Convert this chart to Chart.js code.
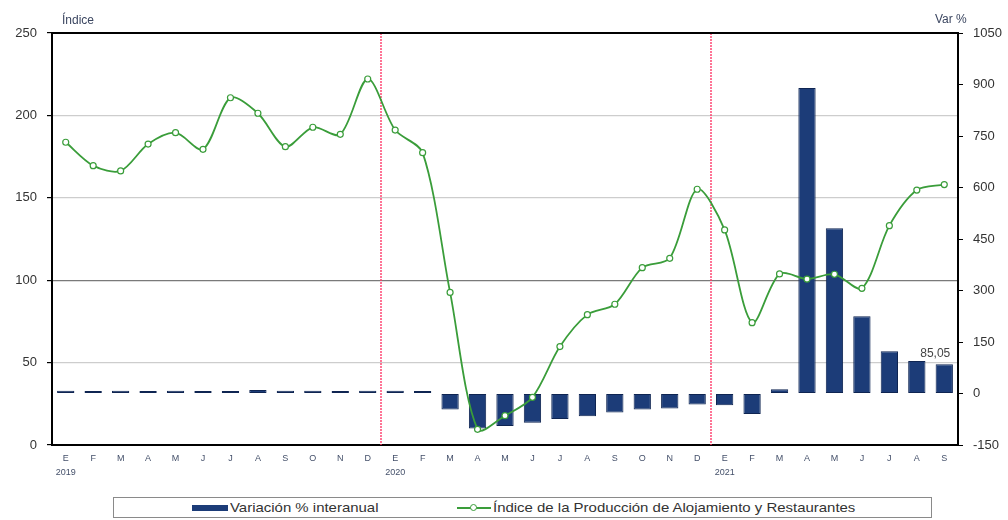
<!DOCTYPE html>
<html lang="es">
<head>
<meta charset="utf-8">
<title>Índice de la Producción de Alojamiento y Restaurantes</title>
<script src="https://cdn.jsdelivr.net/npm/chart.js@4.4.1/dist/chart.umd.min.js"></script>
<style>
  html, body { margin: 0; padding: 0; background: #ffffff; }
  #wrap { position: relative; width: 1008px; height: 520px; font-family: "Liberation Sans", Arial, sans-serif; }
  #chart { position: absolute; left: 0; top: 0; }
  #legend {
    position: absolute; left: 113px; top: 497px; width: 819px; height: 21px;
    border: 1px solid #8a8a8a; box-sizing: border-box; background: #fff;
    font-size: 13px; color: #333; line-height: 19px; white-space: nowrap;
  }
  #legend .item { position: absolute; top: 0; }
  #legend .txt { display: inline-block; transform: scaleX(1.15); transform-origin: left center; }
  #legend .bar { display: inline-block; width: 36px; height: 6px; background: #1c3c78; vertical-align: middle; margin-right: 2px; position: relative; top: -1px; }
  #legend .line { display: inline-block; width: 34px; height: 9px; vertical-align: middle; margin-right: 2px; position: relative; top: -1px; }
  #legend .line::before { content: ""; position: absolute; left: 0; right: 0; top: 4px; height: 1.5px; background: #3a9d3a; }
  #legend .line::after { content: ""; position: absolute; left: 13px; top: 1px; width: 5px; height: 5px; border: 1.2px solid #3a9d3a; border-radius: 50%; background: #fff; }
</style>
</head>
<body>
<div id="wrap">
  <canvas id="chart" width="1008" height="520"></canvas>
  <div id="legend">
    <span class="item" style="left:78px"><span class="bar"></span><span class="txt">Variación % interanual</span></span>
    <span class="item" style="left:343px"><span class="line"></span><span class="txt">Índice de la Producción de Alojamiento y Restaurantes</span></span>
  </div>
</div>
<script>
// Months from January 2019 to September 2021
const months = ['E','F','M','A','M','J','J','A','S','O','N','D',
                'E','F','M','A','M','J','J','A','S','O','N','D',
                'E','F','M','A','M','J','J','A','S'];
const yearLabels = { 0: '2019', 12: '2020', 24: '2021' };

// Year-on-year change, % (right axis)
const variacion = [8, 7, 8, 7, 8, 7, 7, 10, 8, 8, 7, 8,
                   8, 7, -46.5, -102, -95, -85, -74, -66, -55, -46.5, -44, -32,
                   -34, -60, 12.6, 890, 481, 225, 123, 95, 85.05];

// Production index (left axis)
const indice = [183.7, 169.5, 166.3, 182.6, 189.5, 179.4, 210.7, 201.3, 181.0, 192.8, 188.5, 222.1,
                191.1, 177.4, 92.6, 9.5, 17.8, 28.9, 59.7, 79.1, 85.4, 107.6, 113.3, 155.2,
                130.5, 74.2, 103.8, 100.7, 103.6, 95.1, 133.1, 154.7, 158.0];

const labelledBar = 32;   // September 2021
const yearBreaks = [12, 24];

const FONT = '"Liberation Sans", Arial, sans-serif';

const decorations = {
  id: 'decorations',
  beforeDatasetsDraw(chart) {
    const { ctx, chartArea: a, scales: { x } } = chart;
    ctx.save();
    ctx.strokeStyle = '#ff3a6a';
    ctx.lineWidth = 1.4;
    ctx.setLineDash([2, 1]);
    yearBreaks.forEach(i => {
      const px = Math.round((x.getPixelForValue(i - 1) + x.getPixelForValue(i)) / 2);
      ctx.beginPath();
      ctx.moveTo(px, a.top);
      ctx.lineTo(px, a.bottom);
      ctx.stroke();
    });
    ctx.restore();
  },
  afterDraw(chart) {
    const { ctx, chartArea: a } = chart;
    ctx.save();
    // top frame line
    ctx.strokeStyle = '#000';
    ctx.lineWidth = 2;
    ctx.beginPath();
    ctx.moveTo(a.left - 1, a.top);
    ctx.lineTo(a.right + 1, a.top);
    ctx.stroke();
    // axis titles
    ctx.font = '12px ' + FONT;
    ctx.fillStyle = '#3b4660';
    ctx.textBaseline = 'middle';
    ctx.textAlign = 'left';
    ctx.fillText('Índice', 62, 21);
    ctx.fillText('Var %', 935, 20);
    // value label on the last bar
    const bar = chart.getDatasetMeta(0).data[labelledBar];
    ctx.font = '12px ' + FONT;
    ctx.fillStyle = '#444';
    ctx.textAlign = 'center';
    ctx.fillText(variacion[labelledBar].toFixed(2).replace('.', ','), bar.x - 9, bar.y - 11);
    ctx.restore();
  }
};

new Chart(document.getElementById('chart'), {
  data: {
    labels: months,
    datasets: [
      {
        type: 'bar',
        label: 'Variación % interanual',
        data: variacion,
        yAxisID: 'y1',
        backgroundColor: '#1c3c78',
        borderColor: '#0f2552',
        borderWidth: 1,
        borderSkipped: false,
        categoryPercentage: 1,
        barPercentage: 0.63,
        order: 2
      },
      {
        type: 'line',
        label: 'Índice de la Producción de Alojamiento y Restaurantes',
        data: indice,
        yAxisID: 'y',
        borderColor: '#3a9d3a',
        borderWidth: 1.8,
        tension: 0.3,
        pointRadius: 3,
        pointBorderWidth: 1.2,
        pointBackgroundColor: '#ffffff',
        pointBorderColor: '#3a9d3a',
        fill: false,
        order: 1
      }
    ]
  },
  options: {
    responsive: false,
    animation: false,
    events: [],
    layout: { padding: { top: 33, left: 0, right: 0, bottom: 0 } },
    plugins: { legend: { display: false }, tooltip: { enabled: false } },
    scales: {
      x: {
        type: 'category',
        offset: true,
        grid: { display: false, drawTicks: false },
        border: { color: '#000', width: 2 },
        afterFit(scale) { scale.height = 75; },
        ticks: {
          autoSkip: false,
          maxRotation: 0,
          padding: 7,
          color: '#44506a',
          font: { family: FONT, size: 9, lineHeight: 1.5 },
          callback(value, index) {
            return yearLabels[index] ? [months[index], yearLabels[index]] : months[index];
          }
        }
      },
      y: {
        position: 'left',
        min: 0, max: 250,
        afterFit(scale) { scale.width = 52; },
        ticks: { stepSize: 50, padding: 10, color: '#333', font: { family: FONT, size: 13 } },
        grid: {
          color: ctx => (ctx.tick && ctx.tick.value === 100 ? '#7a7a7a' : '#cdcdcd'),
          lineWidth: 1.2,
          tickColor: '#000',
          tickLength: 5
        },
        border: { color: '#000', width: 2 }
      },
      y1: {
        position: 'right',
        min: -150, max: 1050,
        afterFit(scale) { scale.width = 50; },
        ticks: {
          stepSize: 150, padding: 10, color: '#333', font: { family: FONT, size: 13 },
          callback: value => String(value)
        },
        grid: { drawOnChartArea: false, tickColor: '#000', tickLength: 5 },
        border: { color: '#000', width: 2 }
      }
    }
  },
  plugins: [decorations]
});
</script>
</body>
</html>
